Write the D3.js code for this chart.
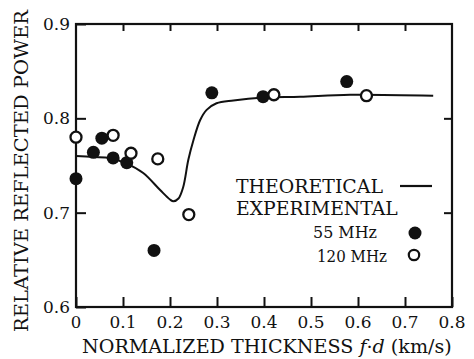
<!DOCTYPE html>
<html>
<head>
<meta charset="utf-8">
<script src="https://cdn.jsdelivr.net/npm/d3@7"></script>
<style>
  html, body { margin: 0; padding: 0; background: #fff; }
  svg { display: block; }
</style>
</head>
<body>
<svg id="chart" width="474" height="359"></svg>
<script>
// ---- data ----
const xTicks = [0, 0.1, 0.2, 0.3, 0.4, 0.5, 0.6, 0.7, 0.8];
const yTicks = [0.6, 0.7, 0.8, 0.9];

const theoX = [0.0, 0.037, 0.072, 0.108, 0.143, 0.179, 0.200, 0.207, 0.218, 0.228, 0.239, 0.250, 0.264, 0.278, 0.299, 0.335, 0.399, 0.477, 0.583, 0.760];
const theoY = [0.760, 0.759, 0.758, 0.752, 0.742, 0.724, 0.714, 0.712, 0.715, 0.727, 0.756, 0.777, 0.798, 0.809, 0.816, 0.819, 0.822, 0.823, 0.825, 0.824];

const mhz55X = [0.0, 0.037, 0.055, 0.079, 0.108, 0.166, 0.289, 0.398, 0.576];
const mhz55Y = [0.736, 0.764, 0.779, 0.758, 0.753, 0.660, 0.827, 0.823, 0.839];

const mhz120X = [0.0, 0.079, 0.117, 0.174, 0.240, 0.421, 0.618];
const mhz120Y = [0.780, 0.782, 0.763, 0.757, 0.698, 0.825, 0.824];

const legendLabels = ["THEORETICAL", "EXPERIMENTAL", "55 MHz", "120 MHz"];

// ---- layout ----
const FONT = "'DejaVu Serif', 'Liberation Serif', serif";
const svg = d3.select("#chart");
const L = 76, R = 452, T = 24, B = 307;

const x = d3.scaleLinear().domain([0, 0.8]).range([L, R]);
const y = d3.scaleLinear().domain([0.6, 0.9]).range([B, T]);

const fmt = d => d === 0 ? "0" : d3.format(".1f")(d);

// place text at (xx,yy), stretched horizontally to a target width
function label(sel, str, xx, yy, size, width, anchor = "start", rot = 0) {
  const g = sel.append("g");
  const t = g.append("text").attr("fill", "#111").attr("text-anchor", anchor)
    .style("font-family", FONT).style("font-size", size + "px");
  if (typeof str === "function") str(t); else t.text(str);
  let sx = 1;
  if (width) {
    const w = t.node().getComputedTextLength();
    if (w > 0) sx = width / w;
  }
  g.attr("transform", `translate(${xx},${yy}) rotate(${rot}) scale(${sx},1)`);
  return t;
}

// axes (ticks only)
const gb = svg.append("g").attr("transform", `translate(0,${B})`)
  .call(d3.axisBottom(x).tickValues(xTicks).tickFormat("").tickSizeInner(-10).tickSizeOuter(0));
const gl = svg.append("g").attr("transform", `translate(${L},0)`)
  .call(d3.axisLeft(y).tickValues(yTicks).tickFormat("").tickSizeInner(-10).tickSizeOuter(0));
const gt = svg.append("g").attr("transform", `translate(0,${T})`)
  .call(d3.axisTop(x).tickValues(xTicks.slice(1, -1)).tickFormat("").tickSizeInner(-7).tickSizeOuter(0));
const gr = svg.append("g").attr("transform", `translate(${R},0)`)
  .call(d3.axisRight(y).tickValues([0.7, 0.8]).tickFormat("").tickSizeInner(-8).tickSizeOuter(0));
[gb, gl, gt, gr].forEach(g => {
  g.select(".domain").remove();
  g.selectAll(".tick text").remove();
  g.selectAll(".tick line").attr("stroke", "#111").attr("stroke-width", 2);
});

// tick labels from the scales
xTicks.forEach(d => label(svg, fmt(d), x(d), 328, 16.5, d === 0 ? 0 : 27, "middle"));
yTicks.forEach(d => label(svg, fmt(d), 70, y(d) + 6, 16.5, 27, "end"));

svg.append("rect").attr("x", L).attr("y", T).attr("width", R - L).attr("height", B - T)
  .attr("fill", "none").attr("stroke", "#111").attr("stroke-width", 2.2);

const theo = theoX.map((d, i) => [d, theoY[i]]);
svg.append("path").datum(theo)
  .attr("fill", "none").attr("stroke", "#111").attr("stroke-width", 2)
  .attr("d", d3.line().x(d => x(d[0])).y(d => y(d[1])).curve(d3.curveCatmullRom.alpha(0.5)));

svg.append("g").selectAll("circle").data(mhz55X.map((d, i) => [d, mhz55Y[i]]))
  .join("circle").attr("cx", d => x(d[0])).attr("cy", d => y(d[1])).attr("r", 6.5).attr("fill", "#111");
svg.append("g").selectAll("circle").data(mhz120X.map((d, i) => [d, mhz120Y[i]]))
  .join("circle").attr("cx", d => x(d[0])).attr("cy", d => y(d[1])).attr("r", 5.5)
  .attr("fill", "#fff").attr("stroke", "#111").attr("stroke-width", 2.3);

// legend
label(svg, legendLabels[0], 236, 193, 18.5, 147);
svg.append("line").attr("x1", 400).attr("x2", 432).attr("y1", 186).attr("y2", 186).attr("stroke", "#111").attr("stroke-width", 2.2);
label(svg, legendLabels[1], 236, 215, 18.5, 162);
label(svg, legendLabels[2], 313, 238, 17.5, 64);
svg.append("circle").attr("cx", 415).attr("cy", 233).attr("r", 6.5).attr("fill", "#111");
label(svg, legendLabels[3], 317, 262, 17.5, 70);
svg.append("circle").attr("cx", 414).attr("cy", 255).attr("r", 5.2).attr("fill", "#fff").attr("stroke", "#111").attr("stroke-width", 2.2);

// axis titles
label(svg, t => {
  t.append("tspan").text("NORMALIZED THICKNESS ");
  t.append("tspan").style("font-style", "italic").text("f");
  t.append("tspan").text("·");
  t.append("tspan").style("font-style", "italic").text("d");
  t.append("tspan").text(" (km/s)");
}, 82, 353, 18.5, 370);

label(svg, "RELATIVE REFLECTED POWER", 28, 171, 19, 322, "middle", -90);
</script>
</body>
</html>
